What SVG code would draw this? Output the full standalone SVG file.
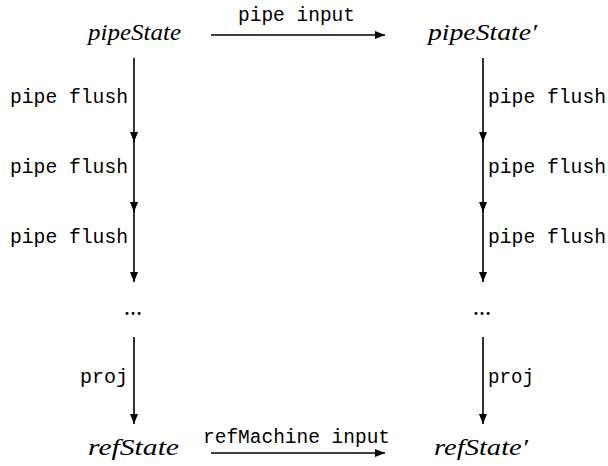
<svg xmlns="http://www.w3.org/2000/svg" width="608" height="466" viewBox="0 0 608 466">
<style>
.st{font-family:"Liberation Serif","DejaVu Serif",serif;font-style:italic;font-size:23px;fill:#000}
.tt{font-family:"Liberation Mono","DejaVu Sans Mono",monospace;font-size:20px;fill:#000}
.dt{font-family:"Liberation Serif","DejaVu Serif",serif;font-weight:bold;font-size:18px;fill:#000}
.ln{stroke:#000;stroke-width:1.6;fill:none}
</style>
<defs>
<marker id="ah" viewBox="0 0 10 8" refX="10" refY="4" markerWidth="10" markerHeight="8" markerUnits="userSpaceOnUse" orient="auto">
<path d="M0,0 L10,4 L0,8 Z" fill="#000"/>
</marker>
</defs>
<g id="connectors">
<line class="ln" x1="211" y1="35" x2="385" y2="35" marker-end="url(#ah)"/>
<line class="ln" x1="211" y1="453" x2="385" y2="453" marker-end="url(#ah)"/>
<line class="ln" x1="134" y1="58" x2="134" y2="142" marker-end="url(#ah)"/>
<line class="ln" x1="134" y1="140" x2="134" y2="212" marker-end="url(#ah)"/>
<line class="ln" x1="134" y1="210" x2="134" y2="282" marker-end="url(#ah)"/>
<line class="ln" x1="134" y1="337" x2="134" y2="424" marker-end="url(#ah)"/>
<line class="ln" x1="483" y1="58" x2="483" y2="142" marker-end="url(#ah)"/>
<line class="ln" x1="483" y1="140" x2="483" y2="212" marker-end="url(#ah)"/>
<line class="ln" x1="483" y1="210" x2="483" y2="282" marker-end="url(#ah)"/>
<line class="ln" x1="483" y1="337" x2="483" y2="424" marker-end="url(#ah)"/>
<text class="tt" x="238" y="21" textLength="117" lengthAdjust="spacingAndGlyphs">pipe input</text>
<text class="tt" x="203" y="443" textLength="187" lengthAdjust="spacingAndGlyphs">refMachine input</text>
<text class="tt" x="10" y="103" textLength="118" lengthAdjust="spacingAndGlyphs">pipe flush</text>
<text class="tt" x="10" y="173" textLength="118" lengthAdjust="spacingAndGlyphs">pipe flush</text>
<text class="tt" x="10" y="243" textLength="118" lengthAdjust="spacingAndGlyphs">pipe flush</text>
<text class="tt" x="488" y="103" textLength="118" lengthAdjust="spacingAndGlyphs">pipe flush</text>
<text class="tt" x="488" y="173" textLength="118" lengthAdjust="spacingAndGlyphs">pipe flush</text>
<text class="tt" x="488" y="243" textLength="118" lengthAdjust="spacingAndGlyphs">pipe flush</text>
<text class="tt" x="80" y="383" textLength="48" lengthAdjust="spacingAndGlyphs">proj</text>
<text class="tt" x="488" y="383" textLength="46" lengthAdjust="spacingAndGlyphs">proj</text>
</g>
<g id="pipeState"><text class="st" x="88" y="40" textLength="93" lengthAdjust="spacingAndGlyphs">pipeState</text></g>
<g id="pipeState2"><text class="st" x="428" y="40" textLength="109" lengthAdjust="spacingAndGlyphs">pipeState′</text></g>
<g id="dots1"><text class="dt" x="124" y="315">…</text></g>
<g id="dots2"><text class="dt" x="473" y="315">…</text></g>
<g id="refState"><text class="st" x="88" y="455" textLength="91" lengthAdjust="spacingAndGlyphs">refState</text></g>
<g id="refState2"><text class="st" x="434" y="455" textLength="94" lengthAdjust="spacingAndGlyphs">refState′</text></g>
</svg>
